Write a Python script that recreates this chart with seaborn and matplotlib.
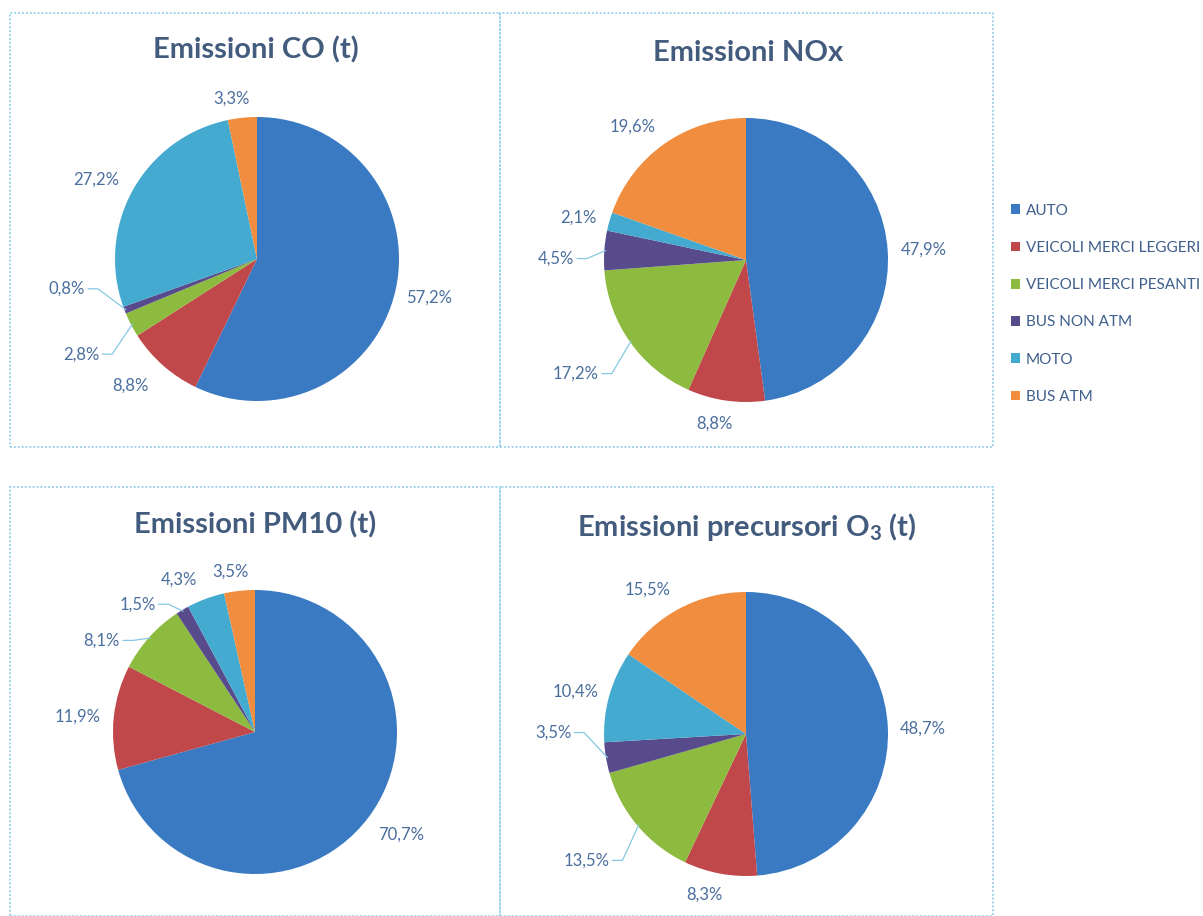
import numpy as np
import matplotlib
matplotlib.use("Agg")
import matplotlib.pyplot as plt
from matplotlib.patches import Rectangle
import seaborn as sns

# ---- data -----------------------------------------------------------------
categories = ["AUTO", "VEICOLI MERCI LEGGERI", "VEICOLI MERCI PESANTI",
              "BUS NON ATM", "MOTO", "BUS ATM"]

co_share = [57.2, 8.8, 2.8, 0.8, 27.2, 3.3]
nox_share = [47.9, 8.8, 17.2, 4.5, 2.1, 19.6]
pm10_share = [70.7, 11.9, 8.1, 1.5, 4.3, 3.5]
o3_share = [48.7, 8.3, 13.5, 3.5, 10.4, 15.5]

titles = ["Emissioni CO (t)", "Emissioni NOx", "Emissioni PM10 (t)",
          r"Emissioni precursori O$_{\mathbf{3}}$ (t)"]

# ---- styling --------------------------------------------------------------
sns.set_theme(style="white")
plt.rcParams["font.family"] = ["Lato", "DejaVu Sans"]
plt.rcParams["mathtext.fontset"] = "custom"
plt.rcParams["mathtext.rm"] = "Lato"
plt.rcParams["mathtext.bf"] = "Lato:bold"

palette = sns.color_palette(["#3A7AC2", "#C0484A", "#8CBB3F",
                             "#574B8C", "#45AAD0", "#F08D3F"])
TITLE_COLOR = "#435C7D"
LABEL_COLOR = "#4A6E9E"
LEGEND_COLOR = "#3F5F8C"
LEADER_COLOR = "#86C8E4"
BORDER_COLOR = "#9DD3EC"

W, H = 1203, 916
fig = plt.figure(figsize=(W / 100, H / 100), dpi=100)
fig.patch.set_facecolor("white")

R_PX = 142.0  # pie radius in pixels

# panel boxes (x0, y0, x1, y1) in pixels from the top-left, and pie centres
panels = [(10, 13, 500, 447), (500, 13, 993, 447),
          (10, 487, 500, 916), (500, 487, 993, 916)]
centres = [(257, 259), (746, 260), (255, 732), (746, 734)]
title_pos = [(256, 50), (748, 53), (255, 525), (747, 527)]

# label placement in pie-radius units: (x, y, has_leader)
# leader labels are anchored by their right edge
label_layout = [
    [(1.21, -0.27, False), (-0.89, -0.89, False), (-1.11, -0.67, True),
     (-1.21, -0.21, True), (-1.13, 0.56, False), (-0.18, 1.13, False)],
    [(1.25, 0.07, False), (-0.225, -1.15, False), (-1.035, -0.80, True),
     (-1.21, 0.01, True), (-1.18, 0.30, False), (-0.80, 0.94, False)],
    [(1.03, -0.72, False), (-1.25, 0.105, False), (-0.95, 0.645, True),
     (-0.70, 0.90, True), (-0.535, 1.07, False), (-0.176, 1.13, False)],
    [(1.245, 0.04, False), (-0.29, -1.13, False), (-0.96, -0.89, True),
     (-1.23, 0.01, True), (-1.20, 0.30, False), (-0.69, 1.02, False)],
]

series = [co_share, nox_share, pm10_share, o3_share]


def fmt_pct(v):
    return f"{v:.1f}%".replace(".", ",")


wedges_for_legend = None
for k in range(4):
    x0, y0, x1, y1 = panels[k]
    cx, cy = centres[k]
    ax = fig.add_axes([x0 / W, 1 - y1 / H, (x1 - x0) / W, (y1 - y0) / H])
    vals = np.array(series[k], dtype=float)
    wedges, _ = ax.pie(vals, colors=palette, startangle=90, counterclock=False,
                       radius=1.0, wedgeprops=dict(linewidth=0))
    if wedges_for_legend is None:
        wedges_for_legend = wedges
    ax.set_xlim((x0 - cx) / R_PX, (x1 - cx) / R_PX)
    ax.set_ylim((cy - y1) / R_PX, (cy - y0) / R_PX)
    ax.set_aspect("auto")
    ax.axis("off")

    # percentage labels with leader lines for the thin slices
    frac = vals / vals.sum()
    ends = np.cumsum(frac)
    mids = ends - frac / 2
    for i, v in enumerate(vals):
        lx, ly, leader = label_layout[k][i]
        if leader:
            ax.text(lx, ly, fmt_pct(v), ha="right", va="center",
                    fontsize=12, color=LABEL_COLOR)
            theta = np.deg2rad(90 - 360 * mids[i])
            ex, ey = 0.99 * np.cos(theta), 0.99 * np.sin(theta)
            sx = lx + 0.02
            mx = sx + 0.07
            ax.plot([sx, mx, ex], [ly, ly, ey], color=LEADER_COLOR,
                    lw=0.9, solid_capstyle="round")
        else:
            ax.text(lx, ly, fmt_pct(v), ha="center", va="center",
                    fontsize=12, color=LABEL_COLOR)

    tx, ty = title_pos[k]
    fig.text(tx / W, 1 - ty / H, titles[k], ha="center", va="center",
             fontsize=21, fontweight="bold", color=TITLE_COLOR)

# dotted panel frames
for (x0, y0, x1, y1) in panels:
    fig.add_artist(Rectangle((x0 / W, 1 - y1 / H), (x1 - x0) / W, (y1 - y0) / H,
                             transform=fig.transFigure, fill=False,
                             edgecolor=BORDER_COLOR, linewidth=1.4,
                             linestyle=(0, (1, 1))))

leg = fig.legend(wedges_for_legend, categories, loc="upper left",
                 bbox_to_anchor=(1003 / W, 1 - 196 / H), frameon=False,
                 fontsize=11, handlelength=0.6, handleheight=0.6,
                 handletextpad=0.4, labelspacing=1.52, borderpad=0)
for t in leg.get_texts():
    t.set_color(LEGEND_COLOR)

fig.savefig("out.png", dpi=100, facecolor="white")
